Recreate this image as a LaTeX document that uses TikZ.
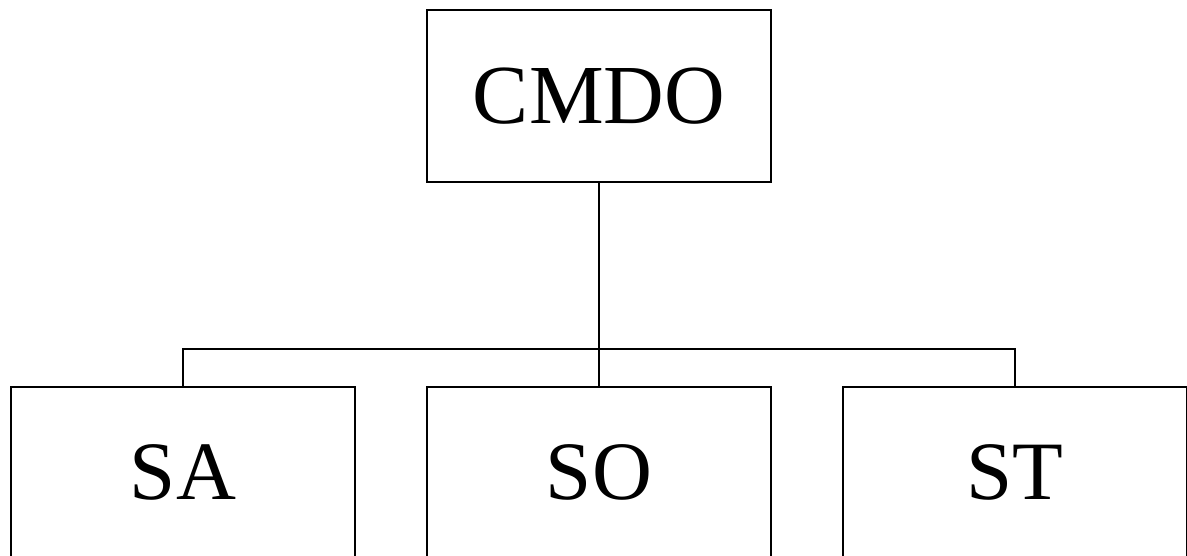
\documentclass[tikz,border=0pt]{standalone}
\usepackage{fontspec}
\setmainfont{Liberation Serif}
\tikzset{
  head/.style={draw, line width=2pt, minimum width=344pt, minimum height=172pt, inner sep=0pt, font=\fontsize{84}{90}\selectfont},
  unit/.style={draw, line width=2pt, minimum width=344pt, inner sep=0pt, text height=112pt, text depth=110pt, font=\fontsize{83}{90}\selectfont, anchor=north}
}
\begin{document}
\begin{tikzpicture}[x=1pt, y=-1pt, line width=2pt]
  \useasboundingbox (0,0) rectangle (1187,556);

  % Define boxes
  \node[head] (cmdo) at (599,96) {CMDO};
  \node[unit] (sa) at (183,386) {SA};
  \node[unit] (so) at (599,386) {SO};
  \node[unit] (st) at (1015,386) {ST};
  \coordinate (bus) at (599,349);

  % Draw connectors
  \draw (cmdo.south) -- (bus) -- (so.north);
  \draw (sa.north) |- (bus) -| (st.north);
\end{tikzpicture}
\end{document}
